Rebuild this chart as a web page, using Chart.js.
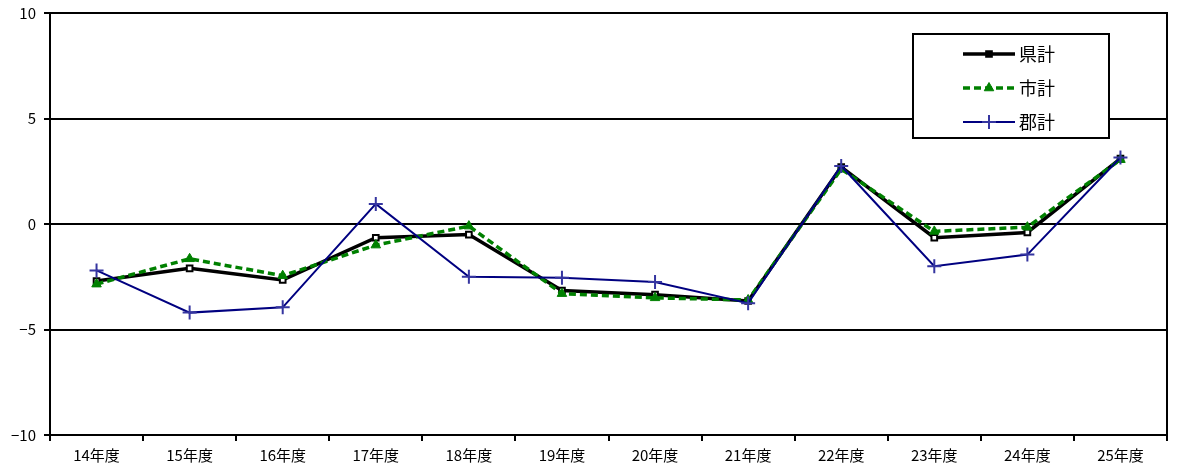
<!DOCTYPE html>
<html>
<head>
<meta charset="utf-8">
<script src="https://cdn.jsdelivr.net/npm/chart.js@4"></script>
<style>
  html, body { margin: 0; padding: 0; background: #fff; }
  #wrap { width: 1180px; height: 468px; }
</style>
</head>
<body>
<div id="wrap"><canvas id="c" width="1180" height="468"></canvas></div>
<script>
const years = ['14年度', '15年度', '16年度', '17年度', '18年度', '19年度', '20年度', '21年度', '22年度', '23年度', '24年度', '25年度'];
const kenkei = [-2.7, -2.1, -2.65, -0.65, -0.5, -3.15, -3.35, -3.65, 2.7, -0.65, -0.4, 3.1];
const shikei = [-2.85, -1.65, -2.45, -1.0, -0.1, -3.3, -3.5, -3.6, 2.6, -0.35, -0.15, 3.05];
const gunkei = [-2.2, -4.2, -3.95, 0.95, -2.5, -2.55, -2.75, -3.75, 2.75, -2.0, -1.45, 3.15];

const FONT = '"Noto Sans CJK JP", "Noto Sans", sans-serif';

// box round the plot area plus the legend box inside it
const frame = {
  id: 'frame',
  afterDraw(chart) {
    const { ctx, chartArea: a } = chart;
    ctx.save();
    ctx.strokeStyle = '#000';
    ctx.lineWidth = 2;
    ctx.strokeRect(a.left, a.top, a.right - a.left, a.bottom - a.top);

    const box = { x: 913, y: 34, w: 196, h: 104 };
    ctx.fillStyle = '#fff';
    ctx.fillRect(box.x, box.y, box.w, box.h);
    ctx.strokeRect(box.x, box.y, box.w, box.h);

    const rows = [54, 88, 122];
    chart.data.datasets.forEach((ds, i) => {
      const y = rows[i];
      ctx.save();
      ctx.strokeStyle = ds.borderColor;
      ctx.lineWidth = ds.borderWidth;
      ctx.setLineDash(ds.borderDash || []);
      ctx.beginPath();
      ctx.moveTo(963, y);
      ctx.lineTo(1015, y);
      ctx.stroke();
      ctx.restore();

      ctx.save();
      ctx.fillStyle = ds.legendMarker;
      ctx.strokeStyle = ds.legendMarker;
      ctx.lineWidth = ds.pointBorderWidth;
      Chart.helpers.drawPoint(ctx, {
        pointStyle: ds.pointStyle,
        radius: ds.pointRadius,
        borderWidth: ds.pointBorderWidth
      }, 989, y);
      ctx.restore();

      ctx.fillStyle = '#000';
      ctx.font = '18px ' + FONT;
      ctx.textBaseline = 'middle';
      ctx.textAlign = 'left';
      ctx.fillText(ds.label, 1019, y);
    });
    ctx.restore();
  }
};

new Chart(document.getElementById('c'), {
  type: 'line',
  data: {
    labels: years,
    datasets: [
      {
        label: '県計',
        data: kenkei,
        borderColor: '#000',
        borderWidth: 3.5,
        pointStyle: 'rect',
        pointRadius: 4,
        pointBackgroundColor: '#fff',
        pointBorderColor: '#000',
        pointBorderWidth: 2,
        legendMarker: '#000',
        order: 3
      },
      {
        label: '市計',
        data: shikei,
        borderColor: '#008000',
        borderWidth: 3.5,
        borderDash: [7, 4],
        pointStyle: 'triangle',
        pointRadius: 5.5,
        pointBackgroundColor: '#008000',
        pointBorderColor: '#008000',
        pointBorderWidth: 1,
        legendMarker: '#008000',
        order: 2
      },
      {
        label: '郡計',
        data: gunkei,
        borderColor: '#000080',
        borderWidth: 2,
        pointStyle: 'cross',
        pointRadius: 7,
        pointBackgroundColor: '#3535a0',
        pointBorderColor: '#3535a0',
        pointBorderWidth: 2,
        legendMarker: '#3535a0',
        order: 1
      }
    ]
  },
  options: {
    responsive: false,
    animation: false,
    layout: { padding: { top: 13, right: 13, left: 0, bottom: 0 } },
    plugins: {
      legend: { display: false },
      tooltip: { enabled: false }
    },
    scales: {
      x: {
        offset: true,
        grid: {
          offset: true,
          drawOnChartArea: false,
          color: '#000',
          lineWidth: 2,
          tickLength: 6
        },
        border: { color: '#000', width: 2 },
        ticks: { color: '#000', font: { family: FONT, size: 15 }, padding: 5, maxRotation: 0 },
        afterFit(s) { s.height = 33; s.paddingLeft = 0; s.paddingRight = 0; }
      },
      y: {
        min: -10,
        max: 10,
        ticks: {
          stepSize: 5,
          color: '#000',
          font: { family: FONT, size: 15 },
          padding: 8,
          callback: v => (v < 0 ? '\u2212' + Math.abs(v) : String(v))
        },
        grid: { color: '#000', lineWidth: 2, tickLength: 6 },
        border: { color: '#000', width: 2 },
        afterFit(s) { s.width = 50; s.paddingTop = 0; s.paddingBottom = 0; }
      }
    }
  },
  plugins: [frame]
});
</script>
</body>
</html>
